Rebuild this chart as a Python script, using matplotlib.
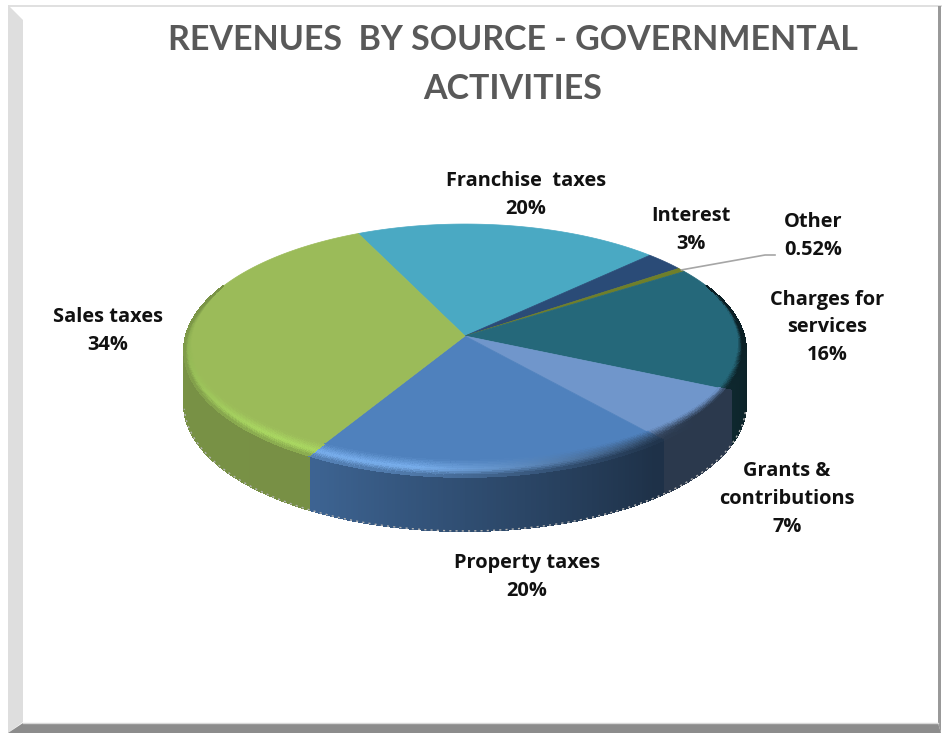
import numpy as np
import matplotlib
matplotlib.use("Agg")
import matplotlib.pyplot as plt
from matplotlib.collections import PolyCollection
from matplotlib.colors import to_rgb
from matplotlib.patches import Polygon

# Data, clockwise from the Sales/Franchise boundary
names = ["Franchise  taxes", "Interest", "Other", "Charges for\nservices",
         "Grants &\ncontributions", "Property taxes", "Sales taxes"]
values = [19.5, 2.5, 0.52, 16.0, 6.9, 19.5, 34.4]
value_labels = ["20%", "3%", "0.52%", "16%", "7%", "20%", "34%"]
colors = ["#4AA9C3", "#2A4B77", "#6F7F2A", "#25687A", "#7096CB", "#4F81BD", "#9BBB59"]
rim_lights = ["#4AA9C3", "#2A4B77", "#6F7F2A", "#25687A", "#7096CB", "#7AB0EE", "#AAD862"]
label_xy = [(526, 195), (691, 230), (813, 236), (827, 327), (787, 499), (527, 577), (108, 331)]

TITLE = "REVENUES  BY SOURCE - GOVERNMENTAL\nACTIVITIES"

# Pie geometry in pixels
CX, CY = 465, 336
RX, RY = 279, 124.8
PERSP = 0.1146
DEPTH = 54
START = -25

plt.rcParams["font.family"] = ["Lato", "Open Sans", "DejaVu Sans"]


def project(theta, su=1.0, sv=1.0, drop=0.0):
    """Clockwise-from-top angle (deg) on the tilted disc to pixel coords."""
    t = np.radians(theta)
    u, v = np.sin(t) * su, np.cos(t) * sv
    w = 1 + PERSP * v
    return CX + RX * u / w, CY - RY * v / w + drop


def rim_point(theta, su, sv):
    """Point of the inner rim ellipse on the straight radius through theta."""
    t = np.radians(theta)
    warped = np.degrees(np.arctan2(np.sin(t) / su, np.cos(t) / sv))
    return project(warped, su, sv)


def wall_shade(theta):
    return np.interp(theta, [90, 115, 142, 209, 270], [0.3, 0.38, 0.38, 0.77, 0.78])


def wall_color(base, theta):
    return np.array(base) * wall_shade(theta)


fig = plt.figure(figsize=(9.42, 7.34), dpi=100)
ax = fig.add_axes([0, 0, 1, 1])
ax.set_xlim(0, 942)
ax.set_ylim(734, 0)
ax.axis("off")

# --- picture frame ---
ax.add_patch(Polygon([(8, 5), (942, 5), (942, 6.5), (8, 6.5)], fc="#E0E0E0", ec="none"))
ax.add_patch(Polygon([(8, 5), (23, 20), (23, 722), (8, 733)], fc="#DEDEDE", ec="none"))
ax.add_patch(Polygon([(938, 6), (941, 6), (941, 733), (938, 723)], fc="#999999", ec="none"))
ax.add_patch(Polygon([(8, 733), (23, 723), (938, 723), (941, 733)], fc="#8C8C8C", ec="none"))
ax.plot([23, 938], [722.5, 722.5], color="#D8D8D8", lw=1)

# --- pie ---
scale = 360 / sum(values)
edges = START + np.concatenate([[0], np.cumsum(values)]) * scale

wall_polys, wall_cols = [], []
rim_polys, rim_cols = [], []
RIM_STEPS = 10

for i, base_hex in enumerate(colors):
    base = np.array(to_rgb(base_hex))
    light = np.array(to_rgb(rim_lights[i]))
    thetas = np.arange(edges[i], edges[i + 1] + 0.5, 0.5)
    thetas[-1] = edges[i + 1]
    for a, b in zip(thetas[:-1], thetas[1:]):
        mid = (a + b) / 2
        if 85 < mid < 275:
            x0, y0 = project(a)
            x1, y1 = project(b)
            x2, y2 = project(b, drop=DEPTH)
            x3, y3 = project(a, drop=DEPTH)
            wall_polys.append([(x0, y0), (x1, y1), (x2, y2), (x3, y3)])
            wall_cols.append(wall_color(base, mid))
        f = np.interp(mid, [65, 100, 260, 295], [0, 1, 1, 0])
        if f > 0:
            glow = np.interp(mid, [130, 190, 225, 270, 295], [0, 1, 1, 0.45, 0])
            peak = wall_color(base, mid) * (1 - glow) + light * glow
            for k in range(RIM_STEPS):
                t0, t1 = k / RIM_STEPS, (k + 1) / RIM_STEPS
                s0u, s0v = 1 - (1 - t0) * 8 / RX * f, 1 - (1 - t0) * 13 / RY * f
                s1u, s1v = 1 - (1 - t1) * 8 / RX * f, 1 - (1 - t1) * 13 / RY * f
                ring = [rim_point(a, s0u, s0v), rim_point(b, s0u, s0v),
                        rim_point(b, s1u, s1v), rim_point(a, s1u, s1v)]
                tc = (t0 + t1) / 2
                if tc < 0.6:
                    c = base + (peak - base) * tc / 0.6
                else:
                    c = peak + (wall_color(base, mid) - peak) * (tc - 0.6) / 0.4 * (1 - 0.3 * glow)
                rim_polys.append(ring)
                rim_cols.append(np.clip(c, 0, 1))

ax.add_collection(PolyCollection(wall_polys, facecolors=wall_cols, edgecolors=wall_cols,
                                 linewidths=0.8, antialiaseds=False))

# rough dotted fringe under the wall
fringe = np.arange(100, 262, 0.5)
fx, fy = project(fringe, drop=DEPTH)
ax.plot(fx, fy, color="#B4B4B4", lw=1.0, ls=(0, (1.5, 3)))

for i, c in enumerate(colors):
    th = np.linspace(edges[i], edges[i + 1], 120)
    x, y = project(th)
    ax.fill(np.r_[CX, x], np.r_[CY, y], fc=c, ec=c, lw=0.5)

ax.add_collection(PolyCollection(rim_polys, facecolors=rim_cols, edgecolors=rim_cols,
                                 linewidths=0.6, antialiaseds=False))

# --- leader for the thin slice ---
lx, ly = project((edges[2] + edges[3]) / 2)
ax.plot([lx, 765, 775], [ly, 255, 255], color="#A6A6A6", lw=1.2)

# --- labels ---
for name, val, (x, y) in zip(names, value_labels, label_xy):
    ax.text(x, y, name + "\n" + val, ha="center", va="center", fontsize=14.4,
            fontweight="bold", color="#111111", linespacing=1.5, family=["Open Sans", "DejaVu Sans"])

ax.text(513, 64.5, TITLE, ha="center", va="center", fontsize=24.5, fontweight="bold",
        color="#595959", linespacing=1.64)

fig.savefig("out.png", dpi=100, facecolor="white")
plt.close(fig)
